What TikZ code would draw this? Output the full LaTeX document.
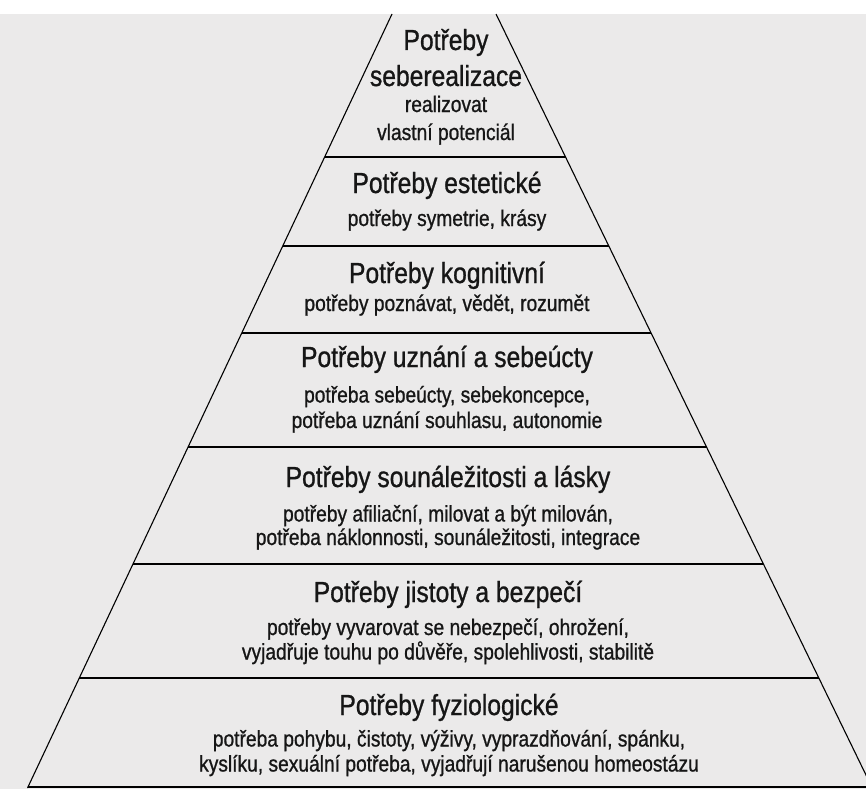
\documentclass[tikz,border=0pt]{standalone}
\usepackage{fontspec}
\setmainfont[FakeStretch=0.85,FakeBold=0.9]{Liberation Sans}
\usetikzlibrary{calc}
\definecolor{paper}{HTML}{EBEAEA}
\definecolor{ink}{HTML}{161616}
\tikzset{
  head/.style={anchor=base, text=ink, inner sep=0pt, font=\fontsize{29}{33}\selectfont},
  sub/.style={anchor=base, text=ink, inner sep=0pt, font=\fontsize{22.6}{26}\selectfont},
  edge/.style={draw=black, line width=1.1pt},
  tier/.style={draw=black, line width=1.3pt}
}
\begin{document}
\begin{tikzpicture}[x=1pt,y=-1pt]
\useasboundingbox (0,0) rectangle (866,789);
\fill[white] (0,0) rectangle (866,789);
\fill[paper] (0,14) rectangle (866,789);
\clip (0,0) rectangle (866,789);
\coordinate (TL) at (392,14);
\coordinate (BL) at (27.5,788);
\coordinate (TR) at (496,14);
\coordinate (BR) at (872.3,788);
\draw[edge] (TL) -- (BL);
\draw[edge] (TR) -- (BR);
\foreach \y in {157,246,333,447,564,678,787}{
  \draw[tier] ($(TL)!{(\y-14)/774}!(BL)$) -- ($(TR)!{(\y-14)/774}!(BR)$);
}
% tier 1
\node[head] (h1a) at (446,50) {Potřeby};
\node[head] (h1b) at (446,86) {seberealizace};
\node[sub] (s1a) at (446,112) {realizovat};
\node[sub] (s1b) at (446,140) {vlastní potenciál};
% tier 2
\node[head] (h2) at (447,193) {Potřeby estetické};
\node[sub] (s2) at (447,226) {potřeby symetrie, krásy};
% tier 3
\node[head] (h3) at (447,283) {Potřeby kognitivní};
\node[sub] (s3) at (447,311) {potřeby poznávat, vědět, rozumět};
% tier 4
\node[head] (h4) at (447,367) {Potřeby uznání a sebeúcty};
\node[sub] (s4a) at (447,402.5) {potřeba sebeúcty, sebekoncepce,};
\node[sub] (s4b) at (447,428) {potřeba uznání souhlasu, autonomie};
% tier 5
\node[head] (h5) at (448,487) {Potřeby sounáležitosti a lásky};
\node[sub] (s5a) at (448,521.5) {potřeby afiliační, milovat a být milován,};
\node[sub] (s5b) at (448,545) {potřeba náklonnosti, sounáležitosti, integrace};
% tier 6
\node[head] (h6) at (448,602) {Potřeby jistoty a bezpečí};
\node[sub] (s6a) at (448,635) {potřeby vyvarovat se nebezpečí, ohrožení,};
\node[sub] (s6b) at (448,659.5) {vyjadřuje touhu po důvěře, spolehlivosti, stabilitě};
% tier 7
\node[head] (h7) at (449,715) {Potřeby fyziologické};
\node[sub] (s7a) at (449,746.5) {potřeba pohybu, čistoty, výživy, vyprazdňování, spánku,};
\node[sub] (s7b) at (449,771.5) {kyslíku, sexuální potřeba, vyjadřují narušenou homeostázu};
\end{tikzpicture}
\end{document}
